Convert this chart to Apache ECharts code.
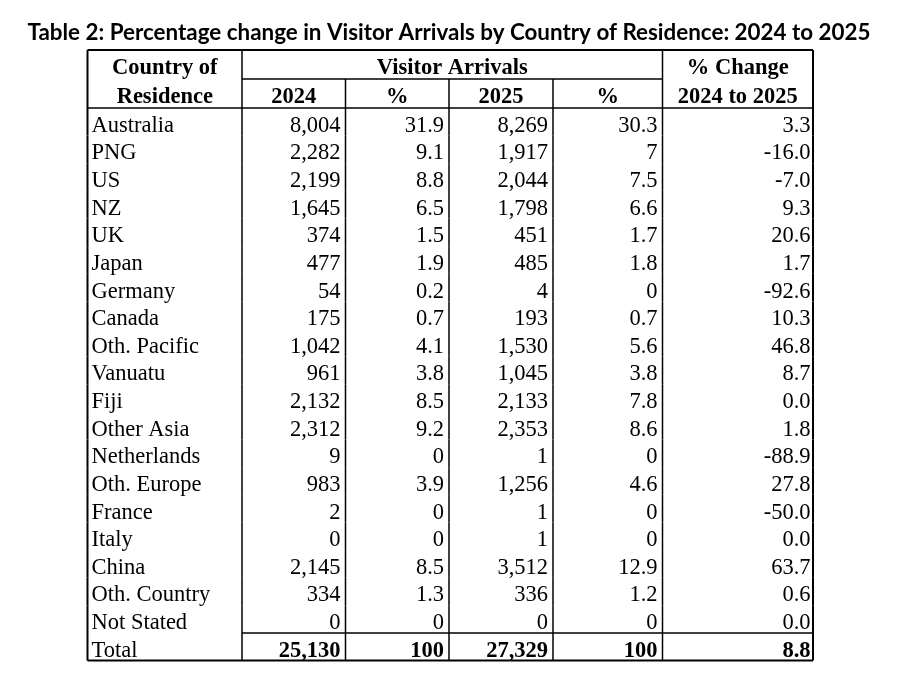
<!DOCTYPE html>
<html>
<head>
<meta charset="utf-8">
<script src="https://cdn.jsdelivr.net/npm/echarts@6/dist/echarts.min.js"></script>
<style>
  html, body { margin: 0; padding: 0; background: #fff; }
  #chart { width: 898px; height: 688px; }
</style>
</head>
<body>
<div id="chart"></div>
<script>
// table data
const countries = ['Australia', 'PNG', 'US', 'NZ', 'UK', 'Japan', 'Germany', 'Canada', 'Oth. Pacific',
  'Vanuatu', 'Fiji', 'Other Asia', 'Netherlands', 'Oth. Europe', 'France', 'Italy', 'China',
  'Oth. Country', 'Not Stated'];
const arrivals2024 = [8004, 2282, 2199, 1645, 374, 477, 54, 175, 1042, 961, 2132, 2312, 9, 983, 2, 0, 2145, 334, 0];
const share2024 = [31.9, 9.1, 8.8, 6.5, 1.5, 1.9, 0.2, 0.7, 4.1, 3.8, 8.5, 9.2, 0, 3.9, 0, 0, 8.5, 1.3, 0];
const arrivals2025 = [8269, 1917, 2044, 1798, 451, 485, 4, 193, 1530, 1045, 2133, 2353, 1, 1256, 1, 1, 3512, 336, 0];
const share2025 = [30.3, 7, 7.5, 6.6, 1.7, 1.8, 0, 0.7, 5.6, 3.8, 7.8, 8.6, 0, 4.6, 0, 0, 12.9, 1.2, 0];
const pctChange = [3.3, -16.0, -7.0, 9.3, 20.6, 1.7, -92.6, 10.3, 46.8, 8.7, 0.0, 1.8, -88.9, 27.8, -50.0, 0.0, 63.7, 0.6, 0.0];
const totals = { arr2024: 25130, share2024: 100, arr2025: 27329, share2025: 100, change: 8.8 };

const headerTop = ['Country of', 'Visitor Arrivals', '% Change'];
const headerSub = ['Residence', '2024', '%', '2025', '%', '2024 to 2025'];

// rows: two header rows, countries, total
const rowCount = 2 + countries.length + 1;

// table layout in axis units (px): column edges, row heights
const colEdges = [0, 154.5, 258, 361.5, 465.5, 575, 725.5];
const HDR_H = 29, ROW_H = 27.63;
const rowTop = i => (i < 2 ? i * HDR_H : 2 * HDR_H + (i - 2) * ROW_H);
const rowH = i => (i < 2 ? HDR_H : ROW_H);
const tableH = rowTop(rowCount);

const FONT = '"Liberation Serif", "Times New Roman", serif';
const fmtInt = v => v.toLocaleString('en-US');

function cellTexts(i) {
  if (i === rowCount - 1) {
    return ['Total', fmtInt(totals.arr2024), String(totals.share2024), fmtInt(totals.arr2025),
      String(totals.share2025), totals.change.toFixed(1)];
  }
  const k = i - 2;
  return [countries[k], fmtInt(arrivals2024[k]), String(share2024[k]), fmtInt(arrivals2025[k]),
    String(share2025[k]), pctChange[k].toFixed(1)];
}

function txt(x, y, s, align, bold) {
  return {
    type: 'text',
    style: {
      x: x, y: y, text: s, align: align, verticalAlign: 'middle',
      fontFamily: FONT, fontSize: 22.5, fontWeight: bold ? 'bold' : 'normal', fill: '#000'
    }
  };
}
function ln(x1, y1, x2, y2, w) {
  return { type: 'line', shape: { x1: x1, y1: y1, x2: x2, y2: y2 }, style: { stroke: '#000', lineWidth: w } };
}

function renderItem(params, api) {
  const i = api.value(1);
  const top = api.coord([0, rowTop(i)])[1];
  const bot = api.coord([0, rowTop(i) + rowH(i)])[1];
  const xs = colEdges.map(e => api.coord([e, 0])[0]);
  const ty = (top + bot) / 2 + 4;
  const last = rowCount - 1;
  const kids = [];

  // vertical borders
  xs.forEach((x, c) => {
    if (i === 0 && c > 1 && c < 5) return;
    const outer = c === 0 || c === xs.length - 1;
    kids.push(ln(x, top, x, bot, outer ? 2 : 1.5));
  });

  if (i === 0) {
    kids.push(ln(xs[0], top, xs[6], top, 2));
    kids.push(ln(xs[1], bot, xs[5], bot, 1.5));
    kids.push(txt((xs[0] + xs[1]) / 2, ty, headerTop[0], 'center', true));
    kids.push(txt((xs[1] + xs[5]) / 2, ty, headerTop[1], 'center', true));
    kids.push(txt((xs[5] + xs[6]) / 2, ty, headerTop[2], 'center', true));
  } else if (i === 1) {
    kids.push(ln(xs[0], bot, xs[6], bot, 1.5));
    headerSub.forEach((s, c) => kids.push(txt((xs[c] + xs[c + 1]) / 2, ty, s, 'center', true)));
  } else {
    const vals = cellTexts(i);
    const isTotal = i === last;
    kids.push(txt(xs[0] + 4, ty, vals[0], 'left', false));
    for (let c = 1; c < 6; c++) {
      const pad = c === 5 ? 2.5 : 5;
      kids.push(txt(xs[c + 1] - pad, ty, vals[c], 'right', isTotal));
    }
    if (isTotal) {
      kids.push(ln(xs[1], top, xs[6], top, 1.5));
      kids.push(ln(xs[0], bot, xs[6], bot, 2));
    }
  }
  return { type: 'group', children: kids };
}

const rows = [];
for (let i = 0; i < rowCount; i++) rows.push([0, i]);

const chart = echarts.init(document.getElementById('chart'));
chart.setOption({
  animation: false,
  title: {
    text: 'Table 2: Percentage change in Visitor Arrivals by Country of Residence: 2024 to 2025',
    left: 'center',
    top: 17,
    padding: [5, 0, 5, 8],
    textStyle: { fontFamily: 'Lato, "Open Sans", sans-serif', fontWeight: 'bold', fontSize: 22.4, color: '#000' }
  },
  grid: { left: 87.5, width: 725.5, top: 50, height: tableH },
  xAxis: { type: 'value', min: 0, max: colEdges[colEdges.length - 1], show: false },
  yAxis: { type: 'value', min: 0, max: tableH, inverse: true, show: false },
  series: [{
    type: 'custom',
    silent: true,
    clip: false,
    renderItem: renderItem,
    encode: { x: 0, y: 1 },
    data: rows
  }]
});
</script>
</body>
</html>
